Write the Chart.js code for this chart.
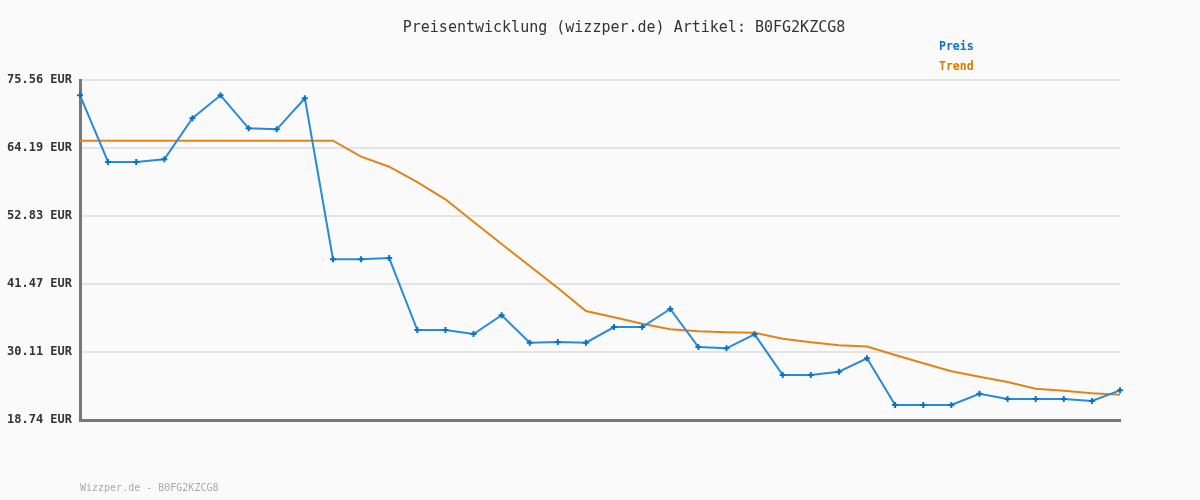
<!DOCTYPE html>
<html>
<head>
<meta charset="utf-8">
<script src="https://cdn.jsdelivr.net/npm/chart.js@4/dist/chart.umd.min.js"></script>
<style>
  html, body { margin: 0; padding: 0; background: #fafafa; }
  #wrap { width: 1200px; height: 500px; }
</style>
</head>
<body>
<div id="wrap"><canvas id="price"></canvas></div>
<script>
// price points, one per step along the x axis
let points = ['1','2','3','4','5','6','7','8','9','10','11','12','13','14','15','16','17','18','19',
  '20','21','22','23','24','25','26','27','28','29','30','31','32','33','34','35','36','37','38'];

let preis = [73.00, 61.86, 61.86, 62.31, 69.16, 73.00, 67.49, 67.32, 72.50, 45.60,
  45.60, 45.81, 33.78, 33.78, 33.11, 36.24, 31.66, 31.77, 31.66, 34.28,
  34.28, 37.29, 30.94, 30.72, 33.06, 26.26, 26.26, 26.81, 29.05, 21.25,
  21.25, 21.25, 23.13, 22.25, 22.25, 22.25, 21.91, 23.70];

let trend = [65.42, 65.42, 65.42, 65.42, 65.42, 65.42, 65.42, 65.42, 65.42, 65.42,
  62.74, 61.07, 58.51, 55.62, 51.88, 48.15, 44.48, 40.80, 36.96, 35.90,
  34.83, 33.90, 33.56, 33.40, 33.33, 32.33, 31.72, 31.22, 31.02, 29.60,
  28.21, 26.88, 25.98, 25.09, 23.97, 23.64, 23.20, 22.97];

let yTicks = [18.74, 30.11, 41.47, 52.83, 64.19, 75.56];

let titleText = 'Preisentwicklung (wizzper.de) Artikel: B0FG2KZCG8';
let footerText = 'Wizzper.de - B0FG2KZCG8';
let legendItems = [{text: 'Preis', color: '#0a72c2'}, {text: 'Trend', color: '#d97800'}];

let mono = '"DejaVu Sans Mono", "Liberation Mono", monospace';

// background, title, legend and footer text
let decor = {
  id: 'decor',
  beforeDraw(chart) {
    let c = chart.ctx;
    c.save();
    c.fillStyle = '#fafafa';
    c.fillRect(0, 0, chart.width, chart.height);
    c.restore();
  },
  afterDraw(chart) {
    let c = chart.ctx;
    c.save();
    c.textBaseline = 'middle';
    c.textAlign = 'center';
    c.fillStyle = '#333';
    c.font = '15px ' + mono;
    c.fillText(titleText, 624, 28);

    c.textAlign = 'left';
    c.font = 'bold 11.5px ' + mono;
    legendItems.forEach((item, i) => {
      c.fillStyle = item.color;
      c.fillText(item.text, 939, 47.5 + i * 20);
    });

    c.fillStyle = '#aaa';
    c.font = '10px ' + mono;
    c.fillText(footerText, 80, 488);
    c.restore();
  }
};

let priceChart = new Chart(document.getElementById('price').getContext('2d'), {
  type: 'line',
  data: {
    labels: points,
    datasets: [{
      label: 'Preis',
      data: preis,
      borderColor: '#2a8ad6',
      backgroundColor: '#0a72c2',
      borderWidth: 2,
      tension: 0,
      pointStyle: 'cross',
      pointRadius: 3,
      pointBorderColor: '#0a72c2',
      pointBorderWidth: 2,
      order: 1
    },
    {
      label: 'Trend',
      data: trend,
      borderColor: '#e0841a',
      backgroundColor: '#e0841a',
      borderWidth: 2,
      tension: 0,
      pointRadius: 0,
      order: 2
    }]
  },
  options: {
    responsive: true,
    maintainAspectRatio: false,
    animation: false,
    events: [],
    layout: { padding: { left: 0, right: 80, top: 80, bottom: 80 } },
    plugins: {
      legend: { display: false },
      title: { display: false },
      tooltip: { enabled: false }
    },
    scales: {
      x: {
        offset: false,
        grid: { display: false, drawTicks: false },
        border: { display: true, color: '#777', width: 3 },
        ticks: { display: false },
        afterFit(scale) { scale.height = 0; }
      },
      y: {
        min: yTicks[0],
        max: yTicks[yTicks.length - 1],
        afterBuildTicks(scale) { scale.ticks = yTicks.map(v => ({ value: v })); },
        afterFit(scale) { scale.width = 80; },
        grid: { color: '#e4e4e4', lineWidth: 2, drawTicks: false },
        border: { display: true, color: '#777', width: 3 },
        ticks: {
          padding: 8,
          color: '#333',
          font: { family: mono, size: 12, weight: 'bold' },
          callback: v => v.toFixed(2) + ' EUR'
        }
      }
    }
  },
  plugins: [decor]
});
</script>
</body>
</html>
